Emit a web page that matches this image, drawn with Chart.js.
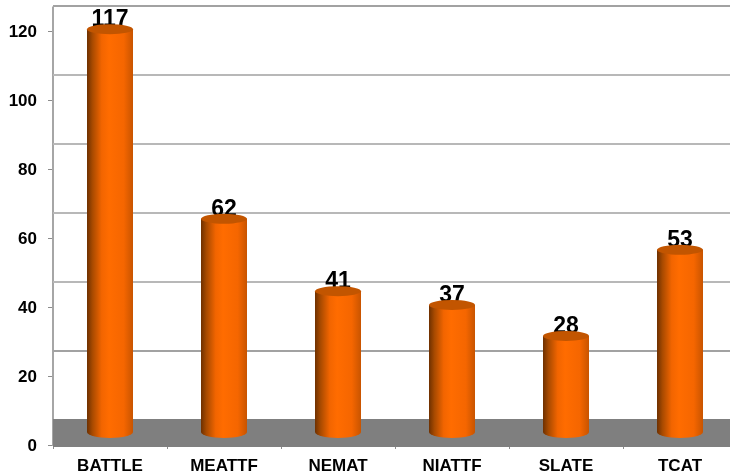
<!DOCTYPE html>
<html>
<head>
<meta charset="utf-8">
<script src="https://cdn.jsdelivr.net/npm/chart.js@4"></script>
<style>
  html, body { margin: 0; padding: 0; width: 730px; height: 472px; overflow: hidden; background: #fff; }
  canvas { display: block; }
</style>
</head>
<body>
<canvas id="barChart" width="740" height="472"></canvas>
<script>
var categories = ["BATTLE", "MEATTF", "NEMAT", "NIATTF", "SLATE", "TCAT"];
var values = [117, 62, 41, 37, 28, 53];
var yTicks = [0, 20, 40, 60, 80, 100, 120];

var wallDepth = 25;   // back wall sits this far above the front axis
var barDepth = 12.5;  // cylinders stand half way back on the floor
var fontName = '"Liberation Sans", Arial, sans-serif';

var cylinder3d = {
  id: "cylinder3d",
  beforeDatasetsDraw: function(chart){
    var ctx = chart.ctx;
    var area = chart.chartArea;
    var y = chart.scales.y;
    ctx.save();

    // grey floor
    ctx.fillStyle = "#7f7f7f";
    ctx.fillRect(area.left, y.getPixelForValue(0) - wallDepth - 1, area.right - area.left, wallDepth + 3);

    // grid lines on the back wall
    for(var i = 1; i < yTicks.length; i++){
      var py = Math.round(y.getPixelForValue(yTicks[i])) - wallDepth;
      ctx.strokeStyle = (yTicks[i] == 20 || yTicks[i] == 120) ? "#a2a2a2" : "#b8b8b8";
      ctx.lineWidth = 2;
      ctx.beginPath();
      ctx.moveTo(area.left, py);
      ctx.lineTo(area.right, py);
      ctx.stroke();
    }

    // left side goes up to the wall top
    ctx.strokeStyle = "#a6a6a6";
    ctx.lineWidth = 2;
    ctx.beginPath();
    ctx.moveTo(area.left, area.top - wallDepth);
    ctx.lineTo(area.left, area.top);
    ctx.stroke();
    ctx.restore();
  },
  afterDatasetsDraw: function(chart){
    var ctx = chart.ctx;
    var bars = chart.getDatasetMeta(0).data;
    ctx.save();

    for(var i = 0; i < bars.length; i++){
      var bar = bars[i];
      var rx = bar.width / 2;
      var ry = 5;
      var top = bar.y - barDepth;
      var bottom = bar.base - barDepth;

      ctx.fillStyle = "#000";
      ctx.font = "bold 23px " + fontName;
      ctx.textAlign = "center";
      ctx.textBaseline = "alphabetic";
      ctx.fillText(values[i], bar.x, top - 3);

      var grad = ctx.createLinearGradient(bar.x - rx, 0, bar.x + rx, 0);
      grad.addColorStop(0, "#6e3000");
      grad.addColorStop(0.12, "#a84a00");
      grad.addColorStop(0.32, "#f26500");
      grad.addColorStop(0.48, "#ff6c00");
      grad.addColorStop(0.8, "#f56600");
      grad.addColorStop(1, "#c85400");

      ctx.fillStyle = grad;
      ctx.beginPath();
      ctx.moveTo(bar.x - rx, top);
      ctx.lineTo(bar.x - rx, bottom);
      ctx.ellipse(bar.x, bottom, rx, ry + 1, 0, Math.PI, 0, true);
      ctx.lineTo(bar.x + rx, top);
      ctx.closePath();
      ctx.fill();

      ctx.fillStyle = "#c25500";
      ctx.beginPath();
      ctx.ellipse(bar.x, top, rx, ry, 0, 0, Math.PI * 2);
      ctx.fill();
    }
    ctx.restore();
  }
};

var ctx = document.getElementById("barChart");

var barChart = new Chart(ctx, {
  type: "bar",
  data: {
    labels: categories,
    datasets: [{
      data: values,
      backgroundColor: "rgba(0,0,0,0)",
      barThickness: 46
    }]
  },
  options: {
    responsive: false,
    animation: false,
    devicePixelRatio: 1,
    layout: { padding: { top: 31.4, right: 3, left: 0, bottom: 0 } },
    plugins: { legend: { display: false }, tooltip: { enabled: false } },
    scales: {
      x: {
        afterFit: function(scale){ scale.height = 27; },
        grid: { drawOnChartArea: false, color: "#8c8c8c", tickLength: 4 },
        border: { color: "#a6a6a6", width: 2 },
        ticks: { color: "#000", padding: 7, maxRotation: 0, font: { family: fontName, size: 17, weight: "bold" } }
      },
      y: {
        min: 0,
        max: 120,
        afterFit: function(scale){ scale.width = 53; },
        afterBuildTicks: function(scale){
          scale.ticks = yTicks.map(function(v){ return { value: v }; });
        },
        grid: { drawOnChartArea: false, color: "#8c8c8c", tickLength: 5 },
        border: { color: "#a6a6a6", width: 2 },
        ticks: { color: "#000", padding: 11, labelOffset: 1, font: { family: fontName, size: 17, weight: "bold" } }
      }
    }
  },
  plugins: [cylinder3d]
});
</script>
</body>
</html>
